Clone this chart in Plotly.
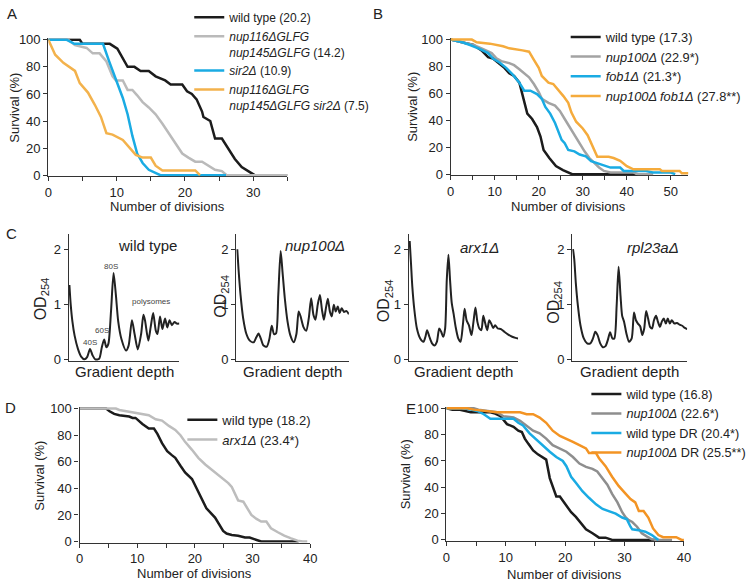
import plotly.graph_objects as go

W, H = 754, 588

# ---------------- data ----------------
# Panel A - survival (%) vs number of divisions
a_wt_x = [0, 4.6, 5, 9.0, 10.1, 11.0, 11.6, 12.6, 13.5, 14.7, 15.7, 17.1, 17.9, 19.6, 20.3, 21, 21.7, 22.5,
          22.7, 23.7, 24.4, 25.4, 26.3, 27.3, 28.3, 29.5, 30.2, 35]
a_wt_y = [100, 100, 97, 97, 93.5, 86, 80, 80, 77, 77, 73, 70, 67, 67, 62, 60, 56, 47,
          43, 40, 27, 27, 20, 12, 6, 2, 0, 0]
a_glfg_x = [0, 2.9, 3.9, 5.6, 6.5, 7.5, 8.5, 9.4, 9.9, 10.9, 11.6, 12.3, 13, 13.8, 14.7, 15.7, 16.7, 17.6,
            18.6, 19.6, 20.5, 21.5, 22.5, 23.4, 24.4, 25.4, 26.1, 35]
a_glfg_y = [100, 100, 96, 94, 90, 90, 84, 73, 70, 70, 63, 63, 59, 54, 50, 45, 38, 31,
            23, 16, 13, 10, 10, 7, 4, 3, 0, 0]
a_sir2_x = [0, 2.7, 3.8, 8, 8.9, 9.9, 10.9, 11.6, 12.3, 13, 13.8, 14.7, 15.7, 16.4, 26]
a_sir2_y = [100, 100, 97, 97, 84, 70, 57, 45, 29, 16, 9, 4, 1.5, 0, 0]
a_triple_x = [0, 1, 2.2, 3.9, 4.6, 5.8, 6.8, 7.7, 8.5, 9.4, 10.9, 11.8, 12.8, 13.8, 15, 15.7, 16.7, 21.5, 22.2]
a_triple_y = [100, 89, 83, 77, 68, 61, 52, 43, 31, 30, 26, 21, 15, 13, 13, 7, 3.5, 3.5, 0]

# Panel B
b_wt_x = [0, 2.6, 5.2, 7, 8.5, 9.6, 10.7, 12.2, 13.3, 14.4, 15.6, 16.1, 16.7, 17.4, 18.5, 19.6, 20.4, 21.1,
          22.4, 23.9, 25.5, 27.6, 42]
b_wt_y = [100, 98, 96, 92, 87, 86, 83, 79, 75, 73, 68, 62, 55, 45, 41, 35, 28, 18,
          12, 6, 3, 0, 0]
b_nup_x = [0, 2.6, 5.2, 7.4, 9.3, 10.4, 11.5, 13.3, 14.4, 15.6, 16.7, 17.8, 18.9, 20, 20.7, 22.2, 23.7, 24.8,
           25.9, 27, 28.1, 29.3, 30.4, 31.5, 32.6, 33.7, 34.8, 36.3, 41.5, 42.6, 46]
b_nup_y = [100, 98, 96, 93, 90, 86, 84, 82.5, 81, 78, 75, 72, 67, 61, 56, 53, 51, 47,
           41, 35, 29, 23, 17, 12, 8.5, 5, 2.4, 1.2, 1.2, 0, 0]
b_fob_x = [0, 2.6, 4.4, 6.7, 8.5, 9.6, 11.1, 12.6, 14.1, 15.6, 16.7, 18.1, 19.6, 20.7, 21.5, 22.6, 23.7, 24.4,
           25.2, 25.9, 26.7, 28.1, 29.3, 30.7, 31.9, 34.1, 36.3, 38.5, 39.3, 44.4, 45.9, 50, 51]
b_fob_y = [100, 98, 96, 93, 90, 86, 83, 79, 74, 68, 62, 62, 59.5, 56, 50, 45, 38, 32,
           25.5, 23, 18, 17, 14.6, 13.3, 9.7, 7.3, 4.9, 4.9, 2.4, 2.4, 1.2, 1.2, 0]
b_dbl_x = [0, 4.8, 5.9, 8.9, 11.9, 13.3, 16.3, 17.8, 18.9, 20, 20.7, 22.2, 23.3, 24.4, 25.6, 26.7, 27.4, 28.5,
           30, 31.1, 31.9, 32.6, 33.3, 35.9, 37, 38.5, 40, 41.5, 47.5, 48, 52, 52.5, 54]
b_dbl_y = [100, 100, 98, 97, 95, 93.5, 92, 91, 85, 79, 73, 68, 67, 63, 58, 53, 46, 39,
           34, 29, 23, 17, 13, 13, 12, 10, 6, 3.6, 3.6, 2.4, 2.4, 0.7, 0.7]

# Panel C - polysome profiles (OD254 vs gradient depth, 0-100 %)
c_wt_x = [0.6, 1.8, 3.3, 5.3, 8.3, 11.2, 14.2, 16.6, 19.2, 21.6, 24.0, 27.5, 29.9, 32.0, 34.0, 35.8, 38.2,
          40.5, 42.6, 44.7, 47.6, 51.8, 54.1, 57.1, 59.5, 62.4, 65.4, 67.5, 68.9, 71.9, 74.0, 76.3, 78.7,
          80.2, 82.5, 84.6, 87.0, 89.1, 91.1, 93.2, 95.6, 97.6, 100]
c_wt_y = [1.35, 0.99, 0.69, 0.43, 0.19, 0.05, 0.0, 0.04, 0.19, 0.07, 0.0, 0.01, 0.22, 0.36, 0.22, 0.28, 0.87,
          1.57, 1.17, 0.69, 0.37, 0.16, 0.25, 0.71, 0.46, 0.18, 0.46, 0.81, 0.71, 0.34, 0.58, 0.84, 0.52,
          0.46, 0.78, 0.55, 0.74, 0.58, 0.71, 0.62, 0.68, 0.65, 0.65]
c_nup_x = [0.9, 2.0, 3.8, 6.1, 9.0, 12.0, 15.5, 17.8, 19.8, 21.9, 24.2, 27.1, 29.4, 31.5, 33.5, 35.3, 37.3,
           39.4, 41.1, 43.1, 45.5, 48.1, 51.0, 53.4, 55.4, 57.1, 59.8, 62.1, 64.4, 66.5, 68.5, 70.3, 72.3,
           74.3, 76.1, 77.8, 79.6, 81.3, 83.1, 84.8, 86.6, 88.3, 90.1, 91.8, 93.6, 95.6, 97.7, 100]
c_nup_y = [2.0, 1.64, 1.17, 0.75, 0.46, 0.34, 0.31, 0.40, 0.47, 0.37, 0.25, 0.23, 0.37, 0.61, 0.46, 0.47, 1.17,
           1.97, 1.58, 1.11, 0.69, 0.43, 0.31, 0.46, 0.87, 0.78, 0.58, 0.52, 0.75, 1.11, 0.81, 0.72, 0.99,
           1.17, 0.90, 0.72, 0.93, 1.10, 0.87, 0.78, 0.99, 0.87, 0.96, 0.84, 0.93, 0.86, 0.88, 0.82]
c_arx_x = [0.9, 2.1, 3.3, 5.1, 7.5, 10.5, 13.5, 15.3, 16.8, 18.9, 21.3, 23.7, 25.8, 27.9, 29.7, 31.5, 33.3,
           34.8, 36.3, 37.8, 39.3, 41.1, 42.9, 45.3, 47.4, 49.5, 51.1, 52.9, 55.0, 57.4, 59.2, 61.0, 62.8,
           64.6, 66.4, 68.2, 70.0, 71.8, 73.6, 75.4, 77.2, 79.0, 81.4, 84.4, 87.4, 91.0, 94.6, 97.6, 100]
c_arx_y = [2.15, 1.74, 1.32, 0.91, 0.56, 0.38, 0.32, 0.41, 0.53, 0.41, 0.29, 0.25, 0.32, 0.56, 0.50, 0.41, 0.56,
           1.44, 1.90, 1.44, 1.03, 0.82, 0.59, 0.38, 0.32, 0.62, 0.92, 0.71, 0.62, 0.44, 0.68, 0.94, 0.68,
           0.56, 0.53, 0.79, 0.65, 0.53, 0.71, 0.65, 0.57, 0.62, 0.56, 0.55, 0.50, 0.45, 0.41, 0.39, 0.38]
c_rpl_x = [0.6, 1.7, 3.1, 4.9, 7.1, 10.0, 12.9, 15.7, 18.0, 20.0, 22.0, 24.3, 26.6, 28.9, 30.9, 32.9, 34.9,
           36.6, 38.6, 40.3, 42.0, 43.4, 45.1, 47.1, 49.4, 51.7, 53.7, 55.4, 57.1, 59.1, 60.9, 62.6, 64.3,
           66.0, 67.7, 69.4, 71.1, 72.9, 74.6, 76.3, 78.0, 79.7, 81.4, 83.1, 84.9, 86.6, 88.9, 91.1, 93.4,
           95.7, 98.0, 100]
c_rpl_y = [2.0, 1.82, 1.38, 0.97, 0.62, 0.38, 0.29, 0.29, 0.38, 0.50, 0.44, 0.29, 0.22, 0.24, 0.35, 0.49, 0.38,
           0.38, 0.97, 1.68, 1.15, 0.79, 0.68, 0.47, 0.32, 0.38, 0.85, 0.71, 0.65, 0.60, 0.44, 0.56, 0.88,
           0.74, 0.59, 0.56, 0.71, 0.79, 0.68, 0.59, 0.69, 0.74, 0.65, 0.74, 0.65, 0.71, 0.65, 0.66, 0.63,
           0.61, 0.57, 0.55]

# Panel D
d_wt_x = [0, 4.6, 5.2, 6, 6.9, 8.6, 9.2, 9.7, 10.9, 12, 12.9, 13.5, 14.3, 15.2, 16, 16.6, 17.5, 18.3, 19.5,
          20.3, 21.2, 22, 23.5, 24.4, 24.9, 25.5, 26.4, 27.5, 28.7, 29.5, 30.4, 31.5, 38]
d_wt_y = [100, 100, 98, 96, 95, 94, 93, 93, 88.5, 85, 85, 81, 74, 68, 65, 63, 57, 52, 47,
          40, 32, 25, 18, 12, 8, 6, 5, 4.4, 3, 3, 1.5, 0, 0]
d_arx_x = [0, 6.3, 6.9, 8.6, 9.7, 10.9, 12, 13.2, 14.3, 15.5, 16.6, 17.5, 18.3, 19.5, 20.6, 21.8, 22.9, 24.1,
           24.9, 25.8, 26.4, 26.9, 27.5, 28.4, 29, 29.8, 30.7, 31.5, 32.4, 33.2, 34.4, 35.5, 36.7, 37.8,
           38.7, 39.5]
d_arx_y = [100, 100, 99, 97.5, 97, 96, 95, 92, 91, 87, 84, 80, 75, 69, 63, 58, 54, 50,
           47, 44, 41, 36, 31, 30, 26, 20, 17, 15, 15, 10, 7, 4.4, 2.4, 0.7, 0, 0]

# Panel E
e_wt_x = [0, 1, 2.1, 2.9, 4.1, 7.4, 8.2, 9.1, 9.6, 10.2, 11.3, 12.1, 12.7, 13.2, 13.8, 14.6, 15.4, 16.3,
          16.8, 17.4, 17.9, 18.5, 19.1, 19.6, 20.2, 21, 21.8, 22.7, 23.5, 24.6, 25.7, 26.8, 27.9, 35]
e_wt_y = [100, 99, 99, 98, 97, 97, 96, 94, 91, 88, 86, 83, 82, 77, 73, 68, 65, 62,
          61, 47, 40, 33, 33, 30, 26, 21, 17.5, 12.5, 8, 5, 1.7, 1.7, 0, 0]
e_nup_x = [0, 4.6, 5.4, 6.8, 8.5, 9.6, 11.3, 12.4, 13.5, 14.6, 15.7, 16.8, 17.9, 19.1, 20.2, 21.3, 22.4,
           23.5, 24.6, 25.4, 26.3, 27.1, 27.9, 28.8, 29.6, 30.2, 30.7, 31.3, 32.1, 32.9, 33.8, 34.6, 35.7, 38]
e_nup_y = [100, 100, 99, 98, 97, 94, 93, 90.5, 87, 83, 81, 77, 72, 69.5, 67, 63, 58,
           55.5, 54, 52, 47, 42, 35, 28.5, 21, 17, 15, 13.6, 10, 5, 2.5, 0.5, 0, 0]
e_wtdr_x = [0, 2.9, 4.1, 5.2, 6.3, 7.4, 8.5, 9.6, 11.3, 12.1, 12.9, 14, 15.2, 16.3, 17.4, 18.5, 19.6, 20.2,
            21, 21.8, 22.9, 24, 25.2, 26.3, 27.4, 28.5, 29.6, 30.4, 31, 31.3, 32.4, 33.5, 34.6, 35.2, 35.7]
e_wtdr_y = [100, 100, 99, 98, 95.5, 92, 92, 92, 92, 89, 87, 81, 76, 71, 67, 63, 60, 56,
            48, 43.5, 37, 32, 27, 23.5, 22, 20, 17, 15.6, 10, 8, 7.4, 6.2, 3.7, 1.7, 0]
e_nupdr_x = [0, 3.5, 4.6, 6.8, 8.5, 12.4, 13.5, 14.6, 15.7, 16.8, 17.9, 19.1, 20.2, 21.3, 22.4, 23.5, 24,
             25.2, 25.7, 26.8, 27.9, 29, 30.2, 31, 31.8, 32.4, 33.2, 34, 34.8, 35.7, 36.5, 38.7, 39.6, 40]
e_nupdr_y = [100, 100, 99, 98, 97, 97, 95.5, 95.5, 93, 89, 83, 79, 77, 74.5, 72, 69.5, 66,
             66, 62, 56, 48, 41, 35, 31, 28.5, 22, 22, 17, 8.7, 3.7, 2, 2, 0, 0]

# ---------------- style ----------------
FONT = "Liberation Sans, Arial, Helvetica, sans-serif"
TXT = "#222222"
AX = "#333333"
BLACK = "#1c1c1c"
BLUE = "#1aabe3"
LW = 2.5


def span(p0, v0, p1, v1, lo, hi):
    k = (p1 - p0) / (v1 - v0)
    return p0 + (lo - v0) * k, p0 + (hi - v0) * k


def xdom(p0, v0, p1, v1, rng):
    a, b = span(p0, v0, p1, v1, *rng)
    return [a / W, b / W]


def ydom(p0, v0, p1, v1, rng):
    a, b = span(p0, v0, p1, v1, *rng)
    return [1 - a / H, 1 - b / H]


SURV_Y = [-0.8, 101.2]


def surv_x(dom, rng):
    return dict(domain=dom, range=rng, showgrid=False, zeroline=False, showline=True,
                linecolor=AX, linewidth=1.3, ticks="outside", ticklen=4, tickcolor=AX,
                tick0=0, dtick=10, minor=dict(dtick=5, ticks="outside", ticklen=4, tickcolor=AX),
                tickfont=dict(family=FONT, size=13, color=TXT), layer="below traces", fixedrange=True)


def surv_y(dom):
    return dict(domain=dom, range=SURV_Y, showgrid=False, zeroline=False, showline=True,
                linecolor=AX, linewidth=1.3, ticks="outside", ticklen=4, tickcolor=AX,
                tickvals=[0, 20, 40, 60, 80, 100], tickfont=dict(family=FONT, size=13, color=TXT),
                layer="below traces", fixedrange=True)


def od_x(dom):
    return dict(domain=dom, range=[0, 100], showgrid=False, zeroline=False, showline=True,
                linecolor=AX, linewidth=1.3, ticks="", showticklabels=False, layer="below traces")


def od_y(dom):
    return dict(domain=dom, range=[-0.03, 2.27], showgrid=False, zeroline=False,
                showline=True, linecolor=AX, linewidth=1.3, ticks="outside", ticklen=4, tickcolor=AX,
                tickvals=[0, 1, 2], tickfont=dict(family=FONT, size=13, color=TXT), layer="below traces")


fig = go.Figure()


def surv(x, y, name, color, ax, leg):
    fig.add_trace(go.Scatter(x=x, y=y, mode="lines", name=name, legend=leg,
                             line=dict(color=color, width=LW), xaxis="x" + ax, yaxis="y" + ax,
                             hoverinfo="skip"))


# --- A ---
surv(a_wt_x, a_wt_y, "wild type (20.2)", BLACK, "", "legend")
surv(a_glfg_x, a_glfg_y, "<i>nup116ΔGLFG</i><br><i>nup145ΔGLFG</i> (14.2)", "#bababa", "", "legend")
surv(a_sir2_x, a_sir2_y, "<i>sir2Δ</i> (10.9)", BLUE, "", "legend")
surv(a_triple_x, a_triple_y, "<i>nup116ΔGLFG</i><br><i>nup145ΔGLFG sir2Δ</i> (7.5)", "#f3b24c", "", "legend")

# --- B ---
surv(b_wt_x, b_wt_y, "wild type (17.3)", BLACK, "2", "legend2")
surv(b_nup_x, b_nup_y, "<i>nup100Δ</i> (22.9*)", "#a3a3a3", "2", "legend2")
surv(b_fob_x, b_fob_y, "<i>fob1Δ</i> (21.3*)", BLUE, "2", "legend2")
surv(b_dbl_x, b_dbl_y, "<i>nup100Δ fob1Δ</i> (27.8**)", "#f5ab3c", "2", "legend2")

# --- C ---
for i, (cx, cy) in enumerate([(c_wt_x, c_wt_y), (c_nup_x, c_nup_y), (c_arx_x, c_arx_y), (c_rpl_x, c_rpl_y)]):
    n = str(i + 3)
    fig.add_trace(go.Scatter(x=cx, y=cy, mode="lines", showlegend=False, hoverinfo="skip",
                             line=dict(color="#222222", width=2, shape="spline", smoothing=0.7),
                             xaxis="x" + n, yaxis="y" + n))

# --- D ---
surv(d_wt_x, d_wt_y, "wild type (18.2)", BLACK, "7", "legend3")
surv(d_arx_x, d_arx_y, "<i>arx1Δ</i> (23.4*)", "#bdbdbd", "7", "legend3")

# --- E ---
surv(e_wt_x, e_wt_y, "wild type (16.8)", BLACK, "8", "legend4")
surv(e_nup_x, e_nup_y, "<i>nup100Δ</i> (22.6*)", "#8e8e8e", "8", "legend4")
surv(e_wtdr_x, e_wtdr_y, "wild type DR (20.4*)", BLUE, "8", "legend4")
surv(e_nupdr_x, e_nupdr_y, "<i>nup100Δ</i> DR (25.5**)", "#f39424", "8", "legend4")

# ---------------- layout ----------------
c_ydom = ydom(360.7, 0, 248.3, 2, [-0.03, 2.27])


def leg(px, py, size):
    return dict(x=px / W, y=1 - py / H, xanchor="left", yanchor="top", bgcolor="rgba(0,0,0,0)",
                font=dict(family=FONT, size=size, color=TXT), itemwidth=30, tracegroupgap=0,
                valign="top", traceorder="normal")


fig.update_layout(
    width=W, height=H, autosize=False,
    margin=dict(l=0, r=0, t=0, b=0),
    paper_bgcolor="white", plot_bgcolor="white",
    font=dict(family=FONT, color=TXT),
    showlegend=True,
    xaxis=surv_x(xdom(45, 0, 253, 30, [0, 35]), [0, 35]),
    yaxis=surv_y(ydom(172.7, 0, 34.5, 100, SURV_Y)),
    xaxis2=surv_x(xdom(453.3, 0, 676.7, 50, [0, 54]), [0, 54]),
    yaxis2=surv_y(ydom(171.7, 0, 34.3, 100, SURV_Y)),
    xaxis3=od_x([65.7 / W, 178 / W]), yaxis3=od_y(c_ydom),
    xaxis4=od_x([235.7 / W, 350 / W]), yaxis4=od_y(c_ydom),
    xaxis5=od_x([410.7 / W, 521.7 / W]), yaxis5=od_y(c_ydom),
    xaxis6=od_x([576.7 / W, 693.3 / W]), yaxis6=od_y(c_ydom),
    xaxis7=surv_x(xdom(76.7, 0, 310.7, 40, [0, 40]), [0, 40]),
    yaxis7=surv_y(ydom(546.7, 0, 411, 100, SURV_Y)),
    xaxis8=surv_x(xdom(449, 0, 690, 40, [0, 40]), [0, 40]),
    yaxis8=surv_y(ydom(545, 0, 410.7, 100, SURV_Y)),
    legend=leg(188, -3, 12),
    legend2=leg(570, 16.5, 12.8),
    legend3=leg(181, 407, 13),
    legend4=leg(591, 381, 12.7),
)
for n in ["", "2", "3", "4", "5", "6", "7", "8"]:
    fig.layout["yaxis" + n].anchor = "x" + n
    fig.layout["xaxis" + n].anchor = "y" + n

ann = []


def text(px, py, s, size=13, angle=0, xanchor="center"):
    ann.append(dict(x=px / W, y=1 - py / H, xref="paper", yref="paper", text=s, showarrow=False,
                    textangle=angle, xanchor=xanchor, yanchor="middle",
                    font=dict(family=FONT, size=size, color=TXT)))


# panel letters
text(8, 8, "A", 15)
text(380, 8, "B", 15)
text(8, 232, "C", 15)
text(7, 410, "D", 15)
text(413, 411, "E", 15)

# axis titles
text(166, 205, "Number of divisions")
text(573, 205, "Number of divisions")
text(193, 579, "Number of divisions")
text(569, 580, "Number of divisions")
text(11, 104, "Survival (%)", angle=-90)
text(415, 103, "Survival (%)", angle=-90)
text(36, 479, "Survival (%)", angle=-90)
text(407, 478, "Survival (%)", angle=-90)

# panel C texts
for cx_mid in [122, 293, 466, 635]:
    text(cx_mid, 373, "Gradient depth", 15)
for ox, oy in [(38, 299), (221, 296), (387, 301), (559, 302)]:
    text(ox, oy, "OD<sub>254</sub>", 16, angle=-90)


def data_text(ax, x, y, s, size, xanchor="center", color=TXT):
    ann.append(dict(x=x, y=y, xref="x" + ax, yref="y" + ax, text=s, showarrow=False,
                    xanchor=xanchor, yanchor="middle", font=dict(family=FONT, size=size, color=color)))


data_text("3", 100, 2.06, "wild type", 15, "right")
data_text("4", 98.5, 2.06, "<i>nup100Δ</i>", 15, "right")
data_text("5", 84.4, 2.03, "<i>arx1Δ</i>", 15, "right")
data_text("6", 94.3, 2.03, "<i>rpl23aΔ</i>", 15, "right")
data_text("3", 19.2, 0.31, "40S", 8, color="#444444")
data_text("3", 30.5, 0.52, "60S", 8, color="#444444")
data_text("3", 38.5, 1.68, "80S", 8, color="#444444")
data_text("3", 74.5, 1.05, "polysomes", 8, color="#444444")

fig.update_layout(annotations=ann)

# the page body has a default 8px margin; remove it so the 754x588 figure fills the window
fig.write_html("out.html", config={"displayModeBar": False},
               post_script="document.body.style.margin='0';document.body.style.overflow='hidden';")
